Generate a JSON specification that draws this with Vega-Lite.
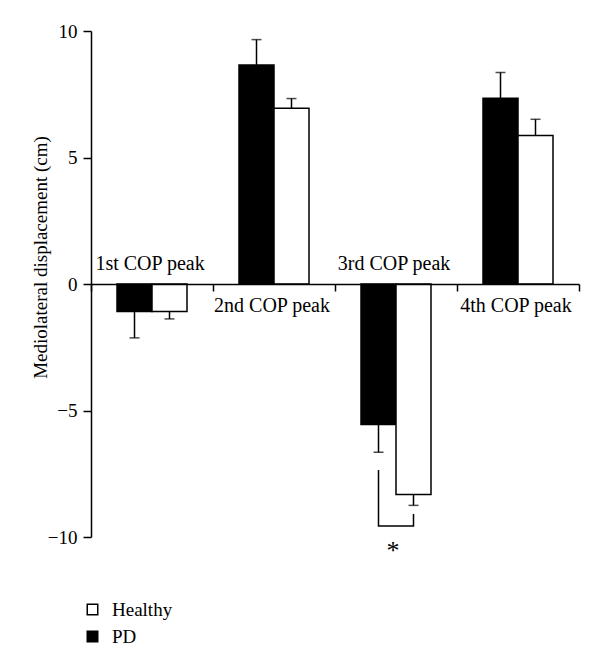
{
  "$schema": "https://vega.github.io/schema/vega-lite/v6.json",
  "width": 488,
  "height": 506,
  "autosize": {"type": "none"},
  "padding": {"left": 91, "top": 31, "right": 21, "bottom": 130},
  "config": {
    "font": "Liberation Serif",
    "view": {"stroke": null},
    "axis": {"grid": false, "domainColor": "#000000", "tickColor": "#000000", "labelColor": "#000000", "titleColor": "#000000"}
  },
  "datasets": {
    "bars": [
      {"group": "1st COP peak", "series": "PD", "value": -1.09, "err": -2.13},
      {"group": "1st COP peak", "series": "Healthy", "value": -1.09, "err": -1.38},
      {"group": "2nd COP peak", "series": "PD", "value": 8.66, "err": 9.66},
      {"group": "2nd COP peak", "series": "Healthy", "value": 6.95, "err": 7.33},
      {"group": "3rd COP peak", "series": "PD", "value": -5.55, "err": -6.65},
      {"group": "3rd COP peak", "series": "Healthy", "value": -8.32, "err": -8.75},
      {"group": "4th COP peak", "series": "PD", "value": 7.34, "err": 8.36},
      {"group": "4th COP peak", "series": "Healthy", "value": 5.87, "err": 6.51}
    ],
    "labels": [
      {"group": "1st COP peak", "side": "above"},
      {"group": "2nd COP peak", "side": "below"},
      {"group": "3rd COP peak", "side": "above"},
      {"group": "4th COP peak", "side": "below"}
    ],
    "bracket": [
      {"group": "3rd COP peak", "series": "PD", "y": -7.35, "k": 1},
      {"group": "3rd COP peak", "series": "PD", "y": -9.57, "k": 2},
      {"group": "3rd COP peak", "series": "Healthy", "y": -9.57, "k": 3},
      {"group": "3rd COP peak", "series": "Healthy", "y": -9.09, "k": 4}
    ],
    "star": [{"group": "3rd COP peak", "sig": "*", "y": -10.34}]
  },
  "layer": [
    {
      "data": {"name": "bars"},
      "mark": {"type": "bar", "stroke": "#000000", "strokeWidth": 1.5},
      "encoding": {
        "x": {
          "field": "group", "type": "nominal",
          "scale": {"domain": ["1st COP peak", "2nd COP peak", "3rd COP peak", "4th COP peak"], "paddingInner": 0, "paddingOuter": 0},
          "axis": {"orient": "bottom", "offset": -253, "labels": false, "title": null, "tickBand": "extent", "domainWidth": 1.5, "tickWidth": 1.5, "tickSize": 7, "zindex": 1}
        },
        "xOffset": {"field": "series", "type": "nominal", "scale": {"domain": ["PD", "Healthy"], "paddingInner": 0, "paddingOuter": 0.743}},
        "y": {
          "field": "value", "type": "quantitative",
          "scale": {"domain": [-10, 10], "nice": false},
          "title": "Mediolateral displacement (cm)",
          "axis": {"values": [-10, -5, 0, 5, 10], "domainWidth": 1.5, "tickWidth": 1.5, "tickSize": 8, "labelPadding": 6, "labelFontSize": 19, "titleFontSize": 19, "titleFontWeight": "normal", "titleX": -51, "titleY": 226, "titleAlign": "center", "titleBaseline": "middle", "titleAngle": -90}
        },
        "fill": {
          "field": "series", "type": "nominal",
          "scale": {"domain": ["Healthy", "PD"], "range": ["#ffffff", "#000000"]},
          "legend": {"orient": "none", "legendX": -8, "legendY": 569, "direction": "vertical", "title": null, "symbolType": "square", "symbolSize": 110, "symbolStrokeColor": "#000000", "symbolStrokeWidth": 1.5, "labelFontSize": 19, "labelColor": "#000000", "labelOffset": 10, "rowPadding": 7, "padding": 0}
        }
      }
    },
    {
      "data": {"name": "bars"},
      "mark": {"type": "rule", "color": "#000000", "strokeWidth": 1.5},
      "encoding": {
        "x": {"field": "group", "type": "nominal"},
        "xOffset": {"field": "series", "type": "nominal"},
        "y": {"field": "value", "type": "quantitative", "scale": {"domain": [-10, 10], "nice": false}, "title": "Mediolateral displacement (cm)"},
        "y2": {"field": "err"}
      }
    },
    {
      "data": {"name": "bars"},
      "mark": {"type": "tick", "color": "#000000", "thickness": 1.5, "size": 10, "orient": "horizontal"},
      "encoding": {
        "x": {"field": "group", "type": "nominal"},
        "xOffset": {"field": "series", "type": "nominal"},
        "y": {"field": "err", "type": "quantitative", "scale": {"domain": [-10, 10], "nice": false}, "title": "Mediolateral displacement (cm)"}
      }
    },
    {
      "data": {"name": "labels"},
      "transform": [{"filter": "datum.side === 'above'"}],
      "mark": {"type": "text", "fontSize": 20, "color": "#000000", "baseline": "alphabetic", "dy": -14, "dx": -2},
      "encoding": {
        "x": {"field": "group", "type": "nominal"},
        "y": {"datum": 0, "type": "quantitative", "scale": {"domain": [-10, 10], "nice": false}, "title": "Mediolateral displacement (cm)"},
        "text": {"field": "group"}
      }
    },
    {
      "data": {"name": "labels"},
      "transform": [{"filter": "datum.side === 'below'"}],
      "mark": {"type": "text", "fontSize": 20, "color": "#000000", "baseline": "alphabetic", "dy": 27.5, "dx": -2},
      "encoding": {
        "x": {"field": "group", "type": "nominal"},
        "y": {"datum": 0, "type": "quantitative", "scale": {"domain": [-10, 10], "nice": false}, "title": "Mediolateral displacement (cm)"},
        "text": {"field": "group"}
      }
    },
    {
      "data": {"name": "bracket"},
      "mark": {"type": "line", "color": "#000000", "strokeWidth": 1.5},
      "encoding": {
        "x": {"field": "group", "type": "nominal"},
        "xOffset": {"field": "series", "type": "nominal"},
        "y": {"field": "y", "type": "quantitative", "scale": {"domain": [-10, 10], "nice": false}, "title": "Mediolateral displacement (cm)"},
        "order": {"field": "k", "type": "quantitative"}
      }
    },
    {
      "data": {"name": "star"},
      "mark": {"type": "text", "fontSize": 26, "color": "#000000", "baseline": "middle", "dx": -3, "dy": 5},
      "encoding": {
        "x": {"field": "group", "type": "nominal"},
        "y": {"field": "y", "type": "quantitative", "scale": {"domain": [-10, 10], "nice": false}, "title": "Mediolateral displacement (cm)"},
        "text": {"field": "sig"}
      }
    }
  ]
}
